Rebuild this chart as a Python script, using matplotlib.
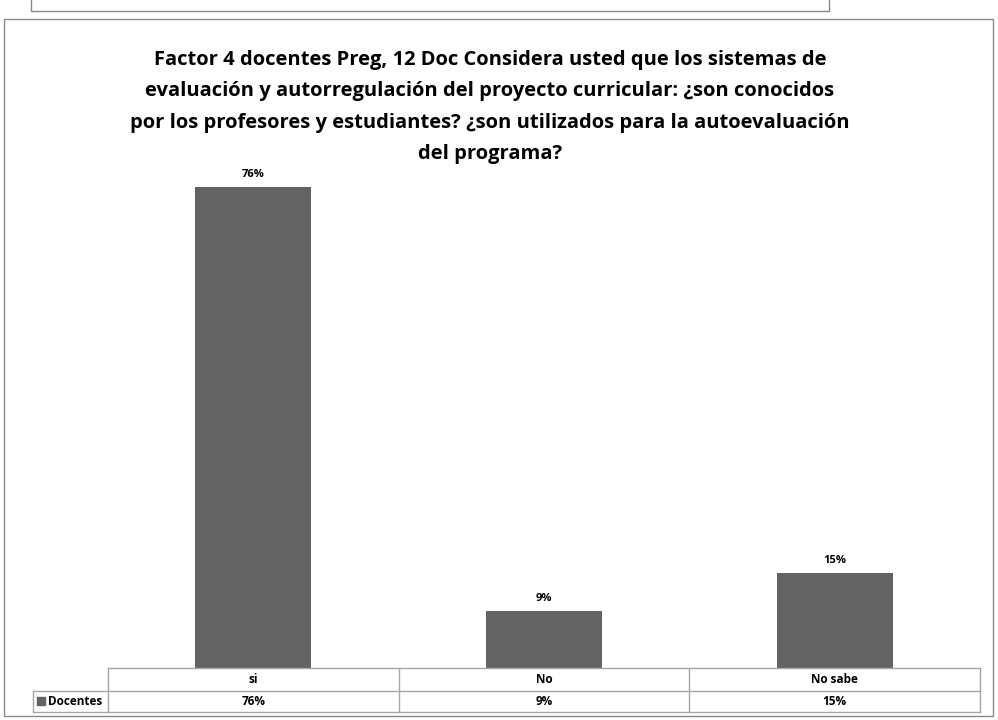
import matplotlib
matplotlib.use("Agg")
import matplotlib.pyplot as plt
from matplotlib.patches import Rectangle
from matplotlib.lines import Line2D

categories = ["si", "No", "No sabe"]
docentes = [0.76, 0.09, 0.15]
series_name = "Docentes"
title = ("Factor 4 docentes Preg, 12 Doc Considera usted que los sistemas de\n"
         "evaluación y autorregulación del proyecto curricular: ¿son conocidos\n"
         "por los profesores y estudiantes? ¿son utilizados para la autoevaluación\n"
         "del programa?")

W, H = 998, 720
BAR = "#636363"
GRID = "#a6a6a6"
FONT = ["Open Sans", "DejaVu Sans"]
plt.rcParams["font.family"] = FONT


def fx(x):
    return x / W


def fy(y):
    return 1 - y / H


fig = plt.figure(figsize=(W / 100, H / 100), dpi=100)

# outer frames
fig.add_artist(Rectangle((fx(31), fy(11)), fx(829 - 31), 0.2, transform=fig.transFigure,
                         fill=False, edgecolor="#888888", lw=1))
fig.add_artist(Rectangle((fx(4), fy(716)), fx(993 - 4), (716 - 19) / H, transform=fig.transFigure,
                         fill=False, edgecolor="#888888", lw=1))

left, right, base, top = 108, 980, 668, 162
ax = fig.add_axes([fx(left), fy(base), fx(right - left), (base - top) / H])
x = range(len(categories))
bars = ax.bar(x, docentes, width=0.4, color=BAR)
ax.set_xlim(-0.5, len(categories) - 0.5)
ax.set_ylim(0, 0.8)
ax.axis("off")
for b, v in zip(bars, docentes):
    ax.annotate(f"{v:.0%}", (b.get_x() + b.get_width() / 2, v), xytext=(0, 5),
                textcoords="offset points", ha="center", va="bottom",
                fontsize=8, fontweight="bold")

fig.text(fx(490), fy(50), title, ha="center", va="top", fontsize=14.5,
         fontweight="bold", linespacing=1.76)

# data table under the axis
r0, r1, r2 = 668, 691, 712
cw = (right - left) / len(categories)
lines = [((left, right), (r0, r0)), ((33, right), (r1, r1)), ((33, right), (r2, r2)),
         ((33, 33), (r1, r2))]
for i in range(len(categories) + 1):
    xx = left + i * cw
    lines.append(((xx, xx), (r0, r2)))
for (xs, ys) in lines:
    fig.add_artist(Line2D([fx(v) for v in xs], [fy(v) for v in ys],
                          transform=fig.transFigure, color=GRID, lw=1))
for i, (c, v) in enumerate(zip(categories, docentes)):
    cx = left + (i + 0.5) * cw
    fig.text(fx(cx), fy((r0 + r1) / 2), c, ha="center", va="center",
             fontsize=8.5, fontweight="bold")
    fig.text(fx(cx), fy((r1 + r2) / 2), f"{v:.0%}", ha="center", va="center",
             fontsize=8.5, fontweight="bold")
fig.add_artist(Rectangle((fx(37), fy(705)), fx(8), 8 / H, transform=fig.transFigure,
                         color=BAR))
fig.text(fx(48), fy((r1 + r2) / 2), series_name, ha="left", va="center",
         fontsize=8.5, fontweight="bold")

fig.savefig("out.png", dpi=100)
